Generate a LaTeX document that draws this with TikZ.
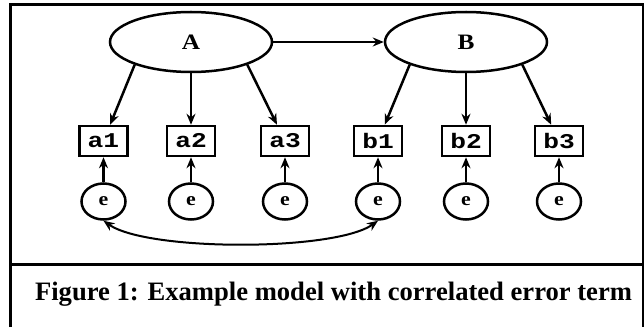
\documentclass[tikz,border=0pt]{standalone}
\usepackage{fontspec}
\setmainfont{Liberation Serif}
\newfontfamily\boxfont[FakeStretch=1.25]{Liberation Mono}
\newfontfamily\latfont[FakeStretch=1.15]{Liberation Serif}
\usetikzlibrary{arrows.meta}
\usetikzlibrary{shapes.geometric,positioning}
\tikzset{> = {Stealth[length=11pt,width=9pt]}, x=1pt, y=1pt}
\tikzset{latent/.style={draw, ellipse, line width=2.5pt, minimum width=162pt, minimum height=60pt, inner sep=0pt, font=\latfont\bfseries\fontsize{22}{26}\selectfont},
	manifest/.style={draw, rectangle, line width=2.5pt, minimum width=48pt, minimum height=30pt, inner sep=0pt, font=\boxfont\bfseries\fontsize{21}{25}\selectfont},
	errterm/.style={draw, ellipse, line width=2.5pt, minimum width=44pt, minimum height=36pt, inner sep=0pt, font=\latfont\bfseries\fontsize{19}{22}\selectfont},
	load/.style={->, line width=2.5pt}}

\begin{document}
\begin{tikzpicture}
		\useasboundingbox (0,0) rectangle (644,327);
		% frame and caption
		\draw[line width=3pt] (10,0)--(10,322)--(643,322)--(643,0);
		\draw[line width=3pt] (10,63)--(643,63);
		\node[font=\bfseries\fontsize{26.6}{30}\selectfont, anchor=base] (cap) at (333.5,27) {Figure 1: Example model with correlated error term};
		% latent variables
		\node[latent] (A) at (191,285) {A};
		\node[latent] (B) at (466,285) {B};
		% indicators
		\node[manifest] (a1) at (103.5,186) {a1};
		\node[manifest] (a2) at (191,186) {a2};
		\node[manifest] (a3) at (285,186) {a3};
		\node[manifest] (b1) at (378,186) {b1};
		\node[manifest] (b2) at (466,186) {b2};
		\node[manifest] (b3) at (559,186) {b3};
		% error terms
		\node[errterm, below=25pt of a1] (ea1) {e};
		\node[errterm, below=25pt of a2] (ea2) {e};
		\node[errterm, below=25pt of a3] (ea3) {e};
		\node[errterm, below=25pt of b1] (eb1) {e};
		\node[errterm, below=25pt of b2] (eb2) {e};
		\node[errterm, below=25pt of b3] (eb3) {e};
		% paths
		\draw[load] (A)--(B);
		\draw[load] (A.-158)--(a1);
		\draw[load] (A)--(a2);
		\draw[load] (A.-22)--(a3);
		\draw[load] (B.-158)--(b1);
		\draw[load] (B)--(b2);
		\draw[load] (B.-22)--(b3);
		\draw[load] (ea1)--(a1);
		\draw[load] (ea2)--(a2);
		\draw[load] (ea3)--(a3);
		\draw[load] (eb1)--(b1);
		\draw[load] (eb2)--(b2);
		\draw[load] (eb3)--(b3);
		\draw[<->, line width=2pt] (ea1.south) to[out=-35,in=-145,looseness=0.5] (eb1.south);
		\end{tikzpicture}
\end{document}
